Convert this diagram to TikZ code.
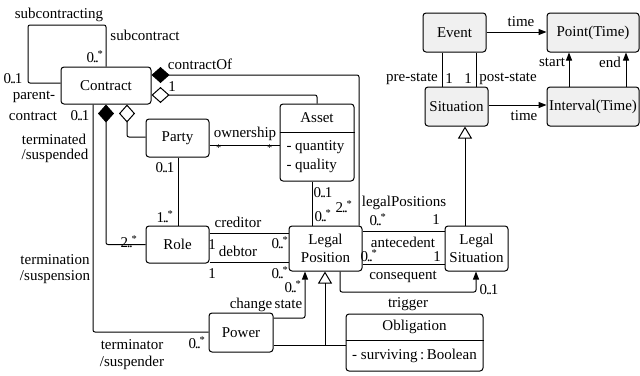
\documentclass[tikz,border=0pt]{standalone}
\usepackage{fontspec}
\setmainfont{Liberation Serif}
\newfontfamily\umlfont{Liberation Serif}
\usetikzlibrary{arrows.meta}

\newcommand{\mult}[2]{#1\kern-1.2pt.\kern-1.5pt.\kern-1.2pt#2}
\newcommand{\many}{\textsuperscript{*}}

\begin{document}
\begin{tikzpicture}[x=1pt,y=-1pt,
		font=\umlfont\fontsize{15}{18}\selectfont,
		line width=1pt,
		klass/.style={draw,rounded corners=3pt,align=center,inner sep=0pt},
		timebox/.style={klass,fill=black!6},
		lbl/.style={inner sep=0pt},
		link/.style={rounded corners=2pt},
		comp/.style={link,{Diamond[length=18pt,width=16pt]}-},
		agg/.style={link,{Diamond[open,length=18pt,width=16pt]}-},
		nav/.style={link,-{Triangle[length=8pt,width=6pt]}},
		gen/.style={-{Triangle[open,length=12pt,width=14pt]}}]
		\useasboundingbox ( 0, 0 ) rectangle ( 640, 375 );

		% классы
		\node [klass, minimum width=90, minimum height=37] (contract) at ( 106, 85.5 ) {Contract};
		\node [klass, minimum width=63, minimum height=38] (party) at ( 177.5, 138 ) {Party};
		\node [klass, minimum width=63, minimum height=37] (role) at ( 177.5, 244.5 ) {Role};
		\node [klass, minimum width=74, minimum height=77] (asset) at ( 317, 142.5 ) {};
		\node [klass, minimum width=73, minimum height=45] (lp) at ( 325.5, 248.5 ) {Legal\\Position};
		\node [klass, minimum width=63, minimum height=45] (ls) at ( 476.5, 248.5 ) {Legal\\Situation};
		\node [klass, minimum width=64, minimum height=39] (power) at ( 241, 332.5 ) {Power};
		\node [klass, minimum width=137, minimum height=57] (obligation) at ( 414.5, 342.5 ) {};

		% время
		\node [timebox, minimum width=63, minimum height=39] (event) at ( 454.5, 32.5 ) {Event};
		\node [timebox, minimum width=63, minimum height=39] (situation) at ( 456.5, 106.5 ) {Situation};
		\node [timebox, minimum width=92, minimum height=39] (point) at ( 593, 32.5 ) {Point(Time)};
		\node [timebox, minimum width=92, minimum height=39] (interval) at ( 593, 106.5 ) {Interval(Time)};

		% атрибуты
		\draw (asset.west |- 0, 132 ) -- (asset.east |- 0, 132 );
		\node [lbl] (assetName) at ( 317, 118 ) {Asset};
		\node [lbl, anchor=west] (quantity) at ( 286, 147 ) {- quantity};
		\node [lbl, anchor=west] (quality) at ( 286, 166 ) {- quality};
		\draw (obligation.west |- 0, 340 ) -- (obligation.east |- 0, 340 );
		\node [lbl] (obligationName) at ( 414.5, 327 ) {Obligation};
		\node [lbl] (surviving) at ( 414.5, 356 ) {- surviving\,:\,Boolean};

		% связи контракта
		\draw [link] (contract.north) -- ( 106, 25 ) -- ( 28, 25 ) -- ( 28, 83 ) -- (contract.west |- 0, 83 );
		\draw [comp] (contract.east |- 0, 75 ) -- ( 359, 75 ) -- (lp.north -| 359, 0 );
		\draw [agg] (contract.east |- 0, 95 ) -- ( 317, 95 ) -- (asset.north);
		\draw [comp] (contract.south -| 106, 0 ) -- ( 106, 244.5 ) -- (role.west);
		\draw [agg] (contract.south -| 127, 0 ) -- ( 127, 137 ) -- (party.west |- 0, 137 );
		\draw [link] (contract.south -| 93, 0 ) -- ( 93, 332 ) -- (power.west |- 0, 332 );

		% стороны и роли
		\draw (party.east |- 0, 145 ) -- (asset.west |- 0, 145 );
		\draw (party.south -| 178, 0 ) -- (role.north -| 178, 0 );
		\draw (asset.south -| 312, 0 ) -- (lp.north -| 312, 0 );
		\draw (role.east |- 0, 233 ) -- (lp.west |- 0, 233 );
		\draw (role.east |- 0, 262 ) -- (lp.west |- 0, 262 );

		% правовые позиции
		\draw (lp.east |- 0, 231 ) -- (ls.west |- 0, 231 );
		\draw (lp.east |- 0, 264 ) -- (ls.west |- 0, 264 );
		\draw [nav] (lp.south -| 340, 0 ) -- ( 340, 292 ) -- ( 476, 292 ) -- (ls.south -| 476, 0 );
		\draw [nav] (power.east |- 0, 318 ) -- ( 305, 318 ) -- (lp.south -| 305, 0 );
		\coordinate (fork) at ( 325, 345 );
		\draw (power.east |- fork) -- (obligation.west |- fork);
		\draw [gen] (fork) -- (lp.south -| fork);
		\draw [gen] (ls.north -| 465, 0 ) -- (situation.south -| 465, 0 );

		% ситуации и время
		\draw (event.south -| 442, 0 ) -- (situation.north -| 442, 0 );
		\draw (event.south -| 476, 0 ) -- (situation.north -| 476, 0 );
		\draw [nav] (event.east |- 0, 32 ) -- (point.west |- 0, 32 );
		\draw [nav] (situation.east |- 0, 105 ) -- (interval.west |- 0, 105 );
		\draw [nav] (interval.north -| 569, 0 ) -- (point.south -| 569, 0 );
		\draw [nav] (interval.north -| 626, 0 ) -- (point.south -| 626, 0 );

		% подписи
		\node [lbl] (tSubcontracting) at ( 59, 15 ) {subcontracting};
		\node [lbl] (tSubcontract) at ( 145, 35 ) {subcontract};
		\node [lbl] (mSub) at ( 95, 57 ) {\mult{0}{\many}};
		\node [lbl] (mParent) at ( 13, 79 ) {\mult{0}{1}};
		\node [lbl] (tParent) at ( 34, 97 ) {parent-};
		\node [lbl] (tParent2) at ( 33, 116 ) {contract};
		\node [lbl] (mTerm) at ( 80, 116 ) {\mult{0}{1}};
		\node [lbl] (tContractOf) at ( 200, 64 ) {contractOf};
		\node [lbl] (mAsset) at ( 172, 87 ) {1};
		\node [lbl] (tTerminated) at ( 54, 139 ) {terminated};
		\node [lbl] (tSuspended) at ( 55, 156 ) {/suspended};
		\node [lbl] (tOwnership) at ( 245, 134 ) {ownership};
		\node [lbl] (mOwnA) at ( 219, 151 ) {\many};
		\node [lbl] (mOwnB) at ( 270, 151 ) {\many};
		\node [lbl] (mParty) at ( 165, 168 ) {\mult{0}{1}};
		\node [lbl] (mRole) at ( 165, 217 ) {\mult{1}{\many}};
		\node [lbl] (mRoleC) at ( 129, 242 ) {\mult{2}{\many}};
		\node [lbl] (tCreditor) at ( 238, 222 ) {creditor};
		\node [lbl] (tDebtor) at ( 238, 251 ) {debtor};
		\node [lbl] (mCredA) at ( 212, 245 ) {1};
		\node [lbl] (mCredB) at ( 280, 243 ) {\mult{0}{\many}};
		\node [lbl] (mDebtA) at ( 212, 274 ) {1};
		\node [lbl] (mDebtB) at ( 280, 273 ) {\mult{0}{\many}};
		\node [lbl] (tTermination) at ( 55, 260 ) {termination};
		\node [lbl] (tSuspension) at ( 55, 277 ) {/suspension};
		\node [lbl] (mChange) at ( 293, 287 ) {\mult{0}{\many}};
		\node [lbl] (tChange) at ( 266, 305 ) {change\,state};
		\node [lbl] (tTerminator) at ( 132, 345 ) {terminator};
		\node [lbl] (tSuspender) at ( 132, 363 ) {/suspender};
		\node [lbl] (mPower) at ( 197, 343 ) {\mult{0}{\many}};
		\node [lbl] (mAssetLp) at ( 323, 193 ) {\mult{0}{1}};
		\node [lbl] (mLpAsset) at ( 323, 216 ) {\mult{0}{\many}};
		\node [lbl] (mLpContract) at ( 344, 207 ) {\mult{2}{\many}};
		\node [lbl] (tLegalPositions) at ( 404, 203 ) {legalPositions};
		\node [lbl] (mLegPosA) at ( 378, 220 ) {\mult{0}{\many}};
		\node [lbl] (mLegPosB) at ( 436, 220 ) {1};
		\node [lbl] (tAntecedent) at ( 403, 242 ) {antecedent};
		\node [lbl] (mAnteA) at ( 369, 256 ) {\mult{0}{\many}};
		\node [lbl] (mAnteB) at ( 437, 257 ) {1};
		\node [lbl] (tConsequent) at ( 403, 277 ) {consequent};
		\node [lbl] (mConseq) at ( 489, 290 ) {\mult{0}{1}};
		\node [lbl] (tTrigger) at ( 408, 304 ) {trigger};
		\node [lbl] (tTimeA) at ( 521, 22 ) {time};
		\node [lbl] (tTimeB) at ( 524, 116 ) {time};
		\node [lbl] (tPre) at ( 412, 79 ) {pre-state};
		\node [lbl] (mPre) at ( 449, 79 ) {1};
		\node [lbl] (mPost) at ( 468, 79 ) {1};
		\node [lbl] (tPost) at ( 508, 79 ) {post-state};
		\node [lbl] (tStart) at ( 552, 62 ) {start};
		\node [lbl] (tEnd) at ( 610, 62 ) {end};
	\end{tikzpicture}
\end{document}
